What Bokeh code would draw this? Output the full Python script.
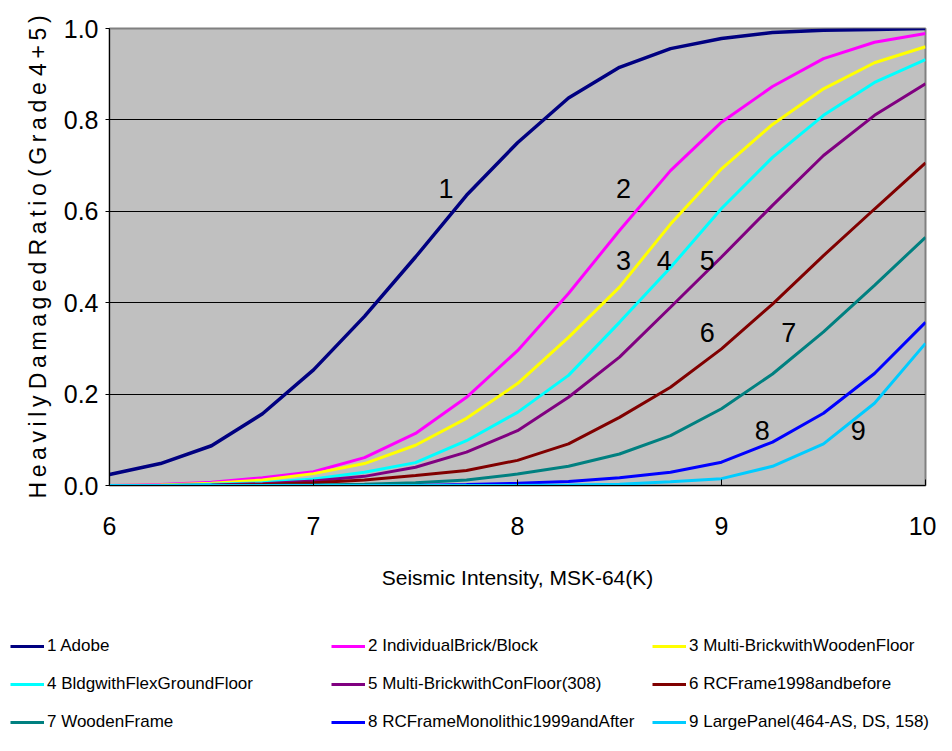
from bokeh.plotting import figure
from bokeh.layouts import column
from bokeh.models import Legend, LegendItem, Range1d, FixedTicker, ColumnDataSource, PrintfTickFormatter
from bokeh.core.properties import value
from bokeh.embed import file_html
from bokeh.resources import INLINE

intensity = [6.0, 6.25, 6.5, 6.75, 7.0, 7.25, 7.5, 7.75, 8.0, 8.25, 8.5, 8.75, 9.0, 9.25, 9.5, 9.75, 10.0]

adobe = [0.024, 0.048, 0.087, 0.157, 0.253, 0.370, 0.500, 0.635, 0.750, 0.848, 0.915, 0.956, 0.978, 0.991, 0.996, 0.998, 1.000]
individual_brick = [0.000, 0.002, 0.007, 0.017, 0.030, 0.061, 0.114, 0.193, 0.295, 0.420, 0.558, 0.689, 0.795, 0.873, 0.934, 0.970, 0.989]
multi_brick_wood = [0.000, 0.001, 0.005, 0.012, 0.026, 0.048, 0.088, 0.147, 0.223, 0.324, 0.434, 0.572, 0.693, 0.790, 0.868, 0.925, 0.960]
flex_ground = [0.000, 0.000, 0.003, 0.006, 0.014, 0.029, 0.050, 0.098, 0.160, 0.241, 0.357, 0.477, 0.606, 0.718, 0.810, 0.882, 0.932]
multi_brick_con = [0.000, 0.000, 0.001, 0.004, 0.010, 0.020, 0.040, 0.073, 0.120, 0.193, 0.281, 0.390, 0.500, 0.613, 0.722, 0.810, 0.879]
rc_frame_1998 = [0.000, 0.000, 0.000, 0.002, 0.006, 0.012, 0.022, 0.033, 0.055, 0.091, 0.149, 0.215, 0.299, 0.397, 0.503, 0.605, 0.706]
wooden_frame = [0.000, 0.000, 0.000, 0.000, 0.001, 0.003, 0.006, 0.012, 0.025, 0.042, 0.069, 0.109, 0.168, 0.244, 0.336, 0.438, 0.543]
rc_monolithic = [0.000, 0.000, 0.000, 0.000, 0.000, 0.000, 0.000, 0.002, 0.005, 0.009, 0.017, 0.029, 0.051, 0.095, 0.158, 0.245, 0.357]
large_panel = [0.000, 0.000, 0.000, 0.000, 0.000, 0.000, 0.000, 0.000, 0.000, 0.001, 0.003, 0.008, 0.015, 0.042, 0.091, 0.180, 0.311]

series_names = ["1 Adobe", "2 IndividualBrick/Block", "3 Multi-BrickwithWoodenFloor",
                "4 BldgwithFlexGroundFloor", "5 Multi-BrickwithConFloor(308)", "6 RCFrame1998andbefore",
                "7 WoodenFrame", "8 RCFrameMonolithic1999andAfter", "9 LargePanel(464-AS, DS, 158)"]
series_values = [adobe, individual_brick, multi_brick_wood, flex_ground, multi_brick_con,
                 rc_frame_1998, wooden_frame, rc_monolithic, large_panel]
series_colors = ["#000080", "#FF00FF", "#FFFF00", "#00FFFF", "#800080", "#800000", "#008080", "#0000FF", "#00CCFF"]

curve_label_text = ["1", "2", "3", "4", "5", "6", "7", "8", "9"]
curve_label_x = [7.65, 8.52, 8.52, 8.72, 8.93, 8.93, 9.33, 9.20, 9.67]
curve_label_y = [0.65, 0.65, 0.492, 0.492, 0.492, 0.335, 0.335, 0.12, 0.12]

x_ticks = [6, 7, 8, 9, 10]
y_ticks = [0.0, 0.2, 0.4, 0.6, 0.8, 1.0]

FONT = "Liberation Sans"
TS = "\u2009"
y_title = " ".join(TS.join(w) for w in ["Heavily", "Damaged", "Ratio", "(Grade", "4+5)"])

W = 936
p = figure(width=W, height=625, output_backend="svg", toolbar_location=None,
           x_range=Range1d(6, 10), y_range=Range1d(0, 1.0),
           min_border_left=109, min_border_right=11, min_border_top=28, min_border_bottom=140)
p.background_fill_color = "#C0C0C0"
p.border_fill_color = "white"
p.outline_line_color = "#808080"
p.outline_line_width = 2

p.xgrid.visible = False
p.ygrid.ticker = FixedTicker(ticks=y_ticks)
p.ygrid.grid_line_color = "black"
p.ygrid.grid_line_width = 1

p.xaxis.ticker = FixedTicker(ticks=x_ticks)
p.yaxis.ticker = FixedTicker(ticks=y_ticks)
p.yaxis.formatter = PrintfTickFormatter(format="%.1f")

for ax in (p.xaxis[0], p.yaxis[0]):
    ax.axis_line_color = "black"
    ax.major_label_text_font = FONT
    ax.major_label_text_color = "black"
    ax.major_label_text_font_size = "25px"
    ax.axis_label_text_font = FONT
    ax.axis_label_text_font_style = "normal"
    ax.axis_label_text_color = "black"
    ax.minor_tick_line_color = None
    ax.major_tick_line_color = "black"

p.xaxis.major_tick_in = 6
p.xaxis.major_tick_out = 0
p.xaxis.major_label_standoff = 31
p.xaxis.axis_label = "Seismic Intensity, MSK-64(K)"
p.xaxis.axis_label_text_font_size = "21px"
p.xaxis.axis_label_standoff = 28

p.yaxis.major_tick_in = 0
p.yaxis.major_tick_out = 4
p.yaxis.major_label_standoff = 7
p.yaxis.axis_label = y_title
p.yaxis.axis_label_text_font_size = "23px"
p.yaxis.axis_label_standoff = 10

# legend strip below the chart (its own canvas so nothing is clipped by the chart frame)
q = figure(width=W, height=110, output_backend="svg", toolbar_location=None,
           x_range=Range1d(6, 10), y_range=Range1d(0, 1.0),
           x_axis_type=None, y_axis_type=None,
           min_border_left=0, min_border_right=0, min_border_top=0, min_border_bottom=0)
q.grid.visible = False
q.outline_line_color = None
q.background_fill_color = "white"

for fig in (p, q):
    try:
        fig.frame_align = False
    except Exception:
        pass

items = []
for name, vals, col in zip(series_names, series_values, series_colors):
    src = ColumnDataSource(data=dict(x=intensity, y=vals))
    lw = 3.5 if col == "#000080" else 3
    p.line("x", "y", source=src, line_color=col, line_width=lw)
    r = q.line("x", "y", source=src, line_color=col, line_width=3, visible=False)
    items.append(LegendItem(label=name, renderers=[r]))

lbl_src = ColumnDataSource(data=dict(x=curve_label_x, y=curve_label_y, t=curve_label_text))
p.text("x", "y", text="t", source=lbl_src, text_font=value(FONT),
       text_font_size="27px", text_color="black", text_align="center", text_baseline="middle")

legend = Legend(items=items, location=(10, 1), ncols=3, orientation="horizontal",
                padding=0, margin=0, border_line_alpha=0, background_fill_alpha=0,
                glyph_width=34, glyph_height=24, label_height=24, label_width=270, spacing=14,
                label_standoff=3, label_text_font=FONT, label_text_font_size="17px",
                label_text_color="black", click_policy="none")
q.add_layout(legend, "center")

layout = column(p, q, spacing=0)
open("out.html", "w").write(file_html(layout, INLINE))
